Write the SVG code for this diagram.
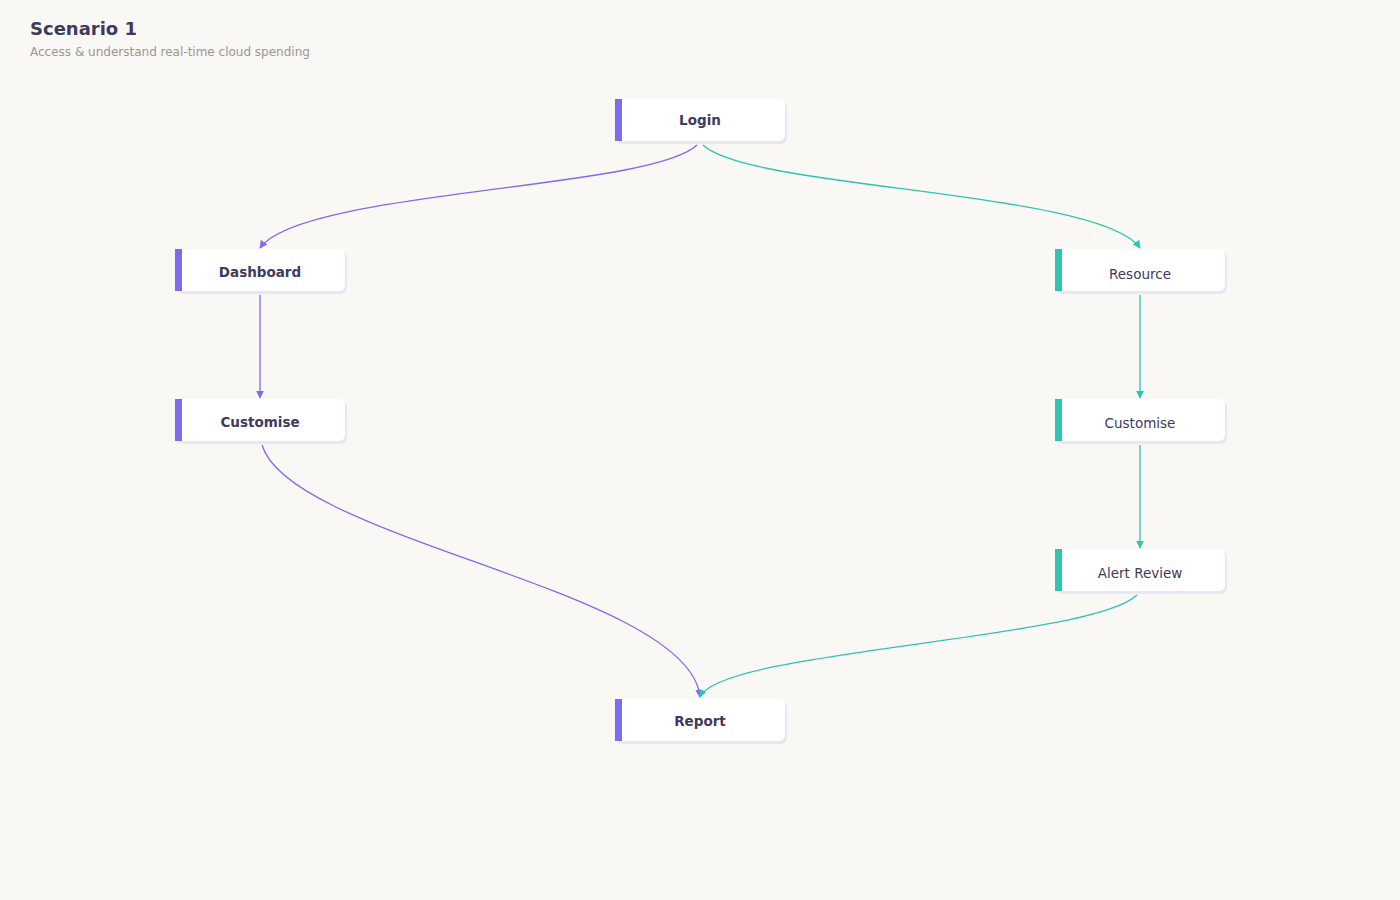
<svg xmlns="http://www.w3.org/2000/svg" width="1400" height="900" viewBox="0 0 1400 900">
<style>
.bg{fill:#f9f8f5}
.card{fill:#fff}
.sh{fill:#e9e7f2}
.t{font-family:"DejaVu Sans",sans-serif;font-size:13.5px;fill:#403a5c;text-anchor:middle}
.b{font-weight:bold}
.p{fill:none;stroke-width:1.3}
.pu{stroke:#7b6cf0}
.te{stroke:#2ec4b0}
</style>
<defs>
<marker id="ap" viewBox="0 0 10 10" refX="9" refY="5" markerWidth="8" markerHeight="8" orient="auto" markerUnits="userSpaceOnUse"><path d="M0,0L10,5L0,10z" fill="#7b6cf0"/></marker>
<marker id="at" viewBox="0 0 10 10" refX="9" refY="5" markerWidth="8" markerHeight="8" orient="auto" markerUnits="userSpaceOnUse"><path d="M0,0L10,5L0,10z" fill="#2ec4b0"/></marker>
</defs>
<rect class="bg" width="1400" height="900"/>
<text x="30" y="35" font-family="DejaVu Sans,sans-serif" font-size="18" font-weight="bold" fill="#403a5c">Scenario 1</text>
<text x="30" y="56" font-family="DejaVu Sans,sans-serif" font-size="12" fill="#9a978f">Access &amp; understand real-time cloud spending</text>
<g id="connectors">
<path class="p pu" marker-end="url(#ap)" d="M697,145 C650,190 300,190 260,248"/>
<path class="p te" marker-end="url(#at)" d="M703,145 C750,190 1100,190 1140,248"/>
<path class="p pu" marker-end="url(#ap)" d="M260,295 L260,398"/>
<path class="p te" marker-end="url(#at)" d="M1140,295 L1140,398"/>
<path class="p te" marker-end="url(#at)" d="M1140,445 L1140,548"/>
<path class="p pu" marker-end="url(#ap)" d="M262,445 C290,540 690,590 700,697"/>
<path class="p te" marker-end="url(#at)" d="M1137,595 C1090,640 720,650 700,697"/>
</g>
<g id="login"><rect class="sh" x="617" y="101" width="170" height="43" rx="6"/><rect class="card" x="615" y="99" width="170" height="42" rx="6"/><rect x="615" y="99" width="7" height="42" fill="#7b6cf0"/><text class="t b" x="700" y="125">Login</text></g>
<g id="dashboard"><rect class="sh" x="177" y="251" width="170" height="43" rx="6"/><rect class="card" x="175" y="249" width="170" height="42" rx="6"/><rect x="175" y="249" width="7" height="42" fill="#7b6cf0"/><text class="t b" x="260" y="277">Dashboard</text></g>
<g id="customise1"><rect class="sh" x="177" y="401" width="170" height="43" rx="6"/><rect class="card" x="175" y="399" width="170" height="42" rx="6"/><rect x="175" y="399" width="7" height="42" fill="#7b6cf0"/><text class="t b" x="260" y="427">Customise</text></g>
<g id="report"><rect class="sh" x="617" y="701" width="170" height="43" rx="6"/><rect class="card" x="615" y="699" width="170" height="42" rx="6"/><rect x="615" y="699" width="7" height="42" fill="#7b6cf0"/><text class="t b" x="700" y="726">Report</text></g>
<g id="resource"><rect class="sh" x="1057" y="251" width="170" height="43" rx="6"/><rect class="card" x="1055" y="249" width="170" height="42" rx="6"/><rect x="1055" y="249" width="7" height="42" fill="#2ec4b0"/><text class="t" x="1140" y="279" font-size="13">Resource</text></g>
<g id="customise2"><rect class="sh" x="1057" y="401" width="170" height="43" rx="6"/><rect class="card" x="1055" y="399" width="170" height="42" rx="6"/><rect x="1055" y="399" width="7" height="42" fill="#2ec4b0"/><text class="t" x="1140" y="428" font-size="13">Customise</text></g>
<g id="alert"><rect class="sh" x="1057" y="551" width="170" height="43" rx="6"/><rect class="card" x="1055" y="549" width="170" height="42" rx="6"/><rect x="1055" y="549" width="7" height="42" fill="#2ec4b0"/><text class="t" x="1140" y="578" font-size="13">Alert Review</text></g>
</svg>
